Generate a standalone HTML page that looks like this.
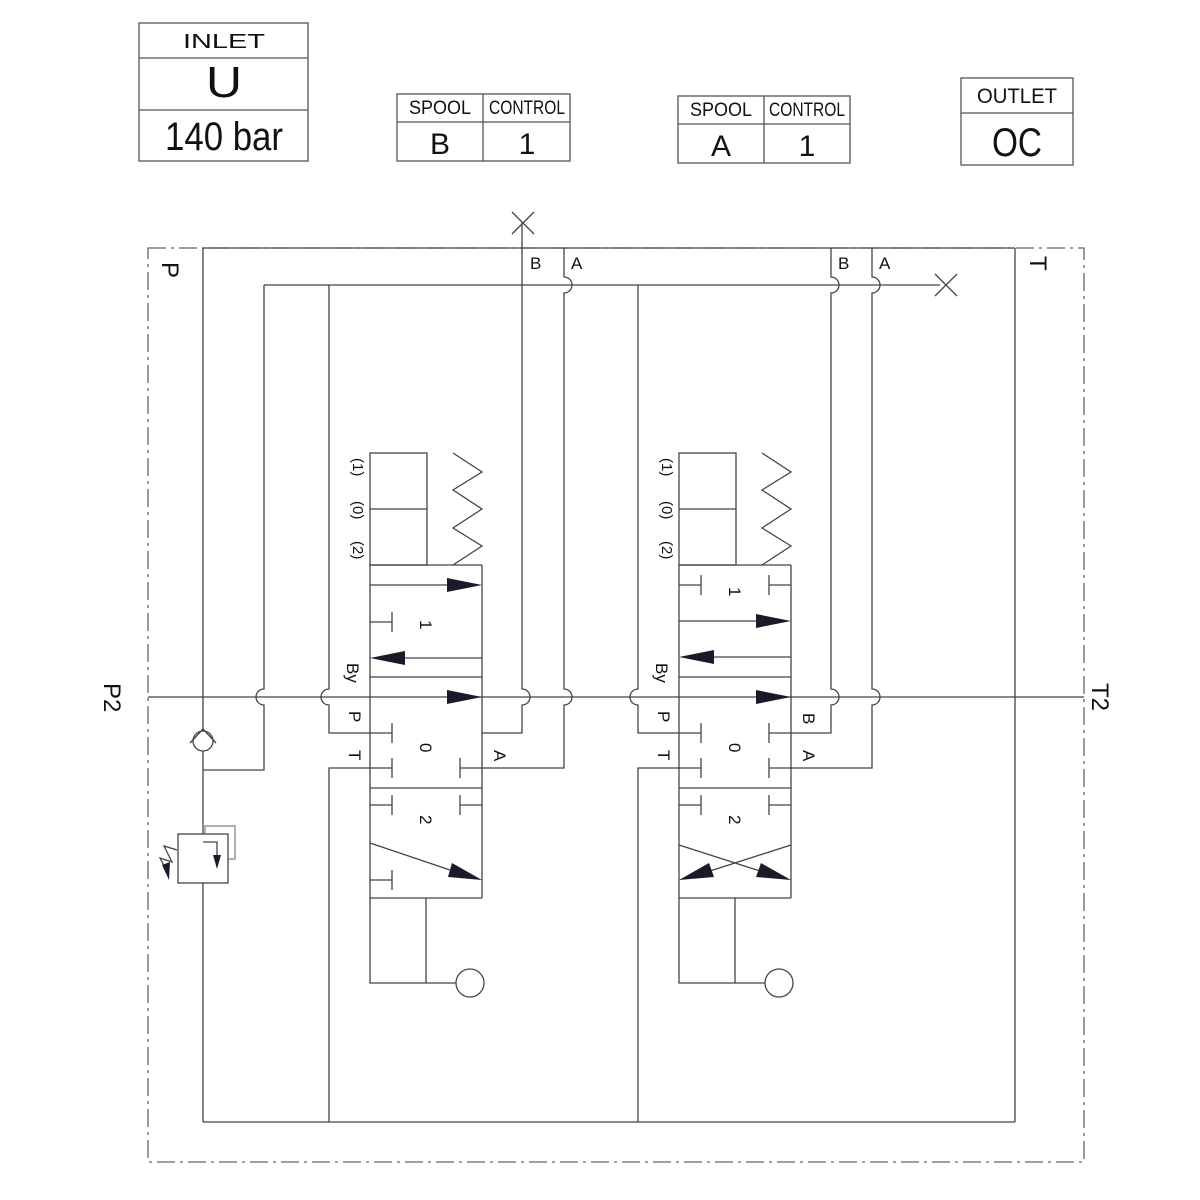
<!DOCTYPE html>
<html><head><meta charset="utf-8"><style>
html,body{margin:0;padding:0;background:#fff}
svg{display:block}
text{font-family:"Liberation Sans","DejaVu Sans",sans-serif;fill:#111}
</style></head><body>
<svg width="1200" height="1200" viewBox="0 0 1200 1200" xmlns="http://www.w3.org/2000/svg">
<g fill="none" stroke="#555" stroke-width="1.3">
<rect x="139" y="23" width="169" height="138"/>
<line x1="139" y1="58" x2="308" y2="58"/><line x1="139" y1="110" x2="308" y2="110"/>
<rect x="397" y="94" width="173" height="67"/>
<line x1="397" y1="122" x2="570" y2="122"/><line x1="483" y1="94" x2="483" y2="161"/>
<rect x="678" y="96" width="172" height="67"/>
<line x1="678" y1="124" x2="850" y2="124"/><line x1="764" y1="96" x2="764" y2="163"/>
<rect x="961" y="78" width="112" height="87"/>
<line x1="961" y1="113" x2="1073" y2="113"/>
</g>
<g text-anchor="middle">
<text x="224" y="48" font-size="20" textLength="82" lengthAdjust="spacingAndGlyphs">INLET</text>
<text x="224" y="97" font-size="44" textLength="36" lengthAdjust="spacingAndGlyphs">U</text>
<text x="224" y="150" font-size="40" textLength="118" lengthAdjust="spacingAndGlyphs">140 bar</text>
<text x="440" y="114" font-size="19" textLength="62" lengthAdjust="spacingAndGlyphs">SPOOL</text>
<text x="527" y="114" font-size="19" textLength="76" lengthAdjust="spacingAndGlyphs">CONTROL</text>
<text x="440" y="154" font-size="30">B</text>
<text x="527" y="154" font-size="30">1</text>
<text x="721" y="116" font-size="19" textLength="62" lengthAdjust="spacingAndGlyphs">SPOOL</text>
<text x="807" y="116" font-size="19" textLength="76" lengthAdjust="spacingAndGlyphs">CONTROL</text>
<text x="721" y="156" font-size="30">A</text>
<text x="807" y="156" font-size="30">1</text>
<text x="1017" y="103" font-size="21" textLength="80" lengthAdjust="spacingAndGlyphs">OUTLET</text>
<text x="1017" y="156" font-size="40" textLength="50" lengthAdjust="spacingAndGlyphs">OC</text>
</g>

<g fill="none" stroke="#444" stroke-width="1.3">
<rect x="148" y="248" width="936" height="914" stroke-dasharray="18,5,3,5" stroke="#666"/>
<line x1="203" y1="248" x2="1015" y2="248"/>
<line x1="203" y1="248" x2="203" y2="731"/>
<line x1="203" y1="751" x2="203" y2="834"/>
<line x1="203" y1="883" x2="203" y2="1122"/>
<line x1="203" y1="1122" x2="1015" y2="1122"/>
<line x1="1015" y1="248" x2="1015" y2="1122"/>
<line x1="148" y1="697" x2="1084" y2="697"/>
<line x1="264" y1="285" x2="940" y2="285"/>
<path d="M264 285 V689 A8 8 0 0 0 264 705 V770 H203"/>
<path d="M329 285 V689 A8 8 0 0 0 329 705 V733 H392"/>
<path d="M329 1122 V768 H392"/>
<path d="M638 285 V689 A8 8 0 0 0 638 705 V733 H701"/>
<path d="M638 1122 V768 H701"/>
<path d="M522 222 V689 A8 8 0 0 1 522 705 V733 H482"/>
<path d="M564 248 V277 A8 8 0 0 1 564 293 V689 A8 8 0 0 1 564 705 V768 H460"/>
<path d="M831 248 V277 A8 8 0 0 1 831 293 V689 A8 8 0 0 1 831 705 V733 H769"/>
<path d="M872 248 V277 A8 8 0 0 1 872 293 V689 A8 8 0 0 1 872 705 V768 H769"/>
<path d="M512 212 L534 234 M534 212 L512 234"/>
<path d="M935 274 L957 296 M957 274 L935 296"/>

<!-- LEFT VALVE -->
<rect x="370" y="453" width="57" height="112"/>
<line x1="370" y1="509" x2="427" y2="509"/>
<path d="M453 453 L482 472 L453 490 L482 509 L453 528 L482 546 L453 565" />
<line x1="482" y1="565" x2="482" y2="898"/>
<line x1="370" y1="565" x2="370" y2="898"/>
<line x1="370" y1="565" x2="482" y2="565"/>
<line x1="370" y1="585" x2="450" y2="585"/>
<path d="M370 622 H392 M392 612 V632"/>
<line x1="404" y1="658" x2="482" y2="658"/>
<line x1="370" y1="677" x2="482" y2="677"/>
<path d="M392 723 V743 M392 758 V778 M460 758 V778"/>
<line x1="370" y1="788" x2="482" y2="788"/>
<path d="M370 805 H392 M392 795 V815 M460 805 H482 M460 795 V815"/>
<line x1="370" y1="843" x2="450" y2="870"/>
<path d="M370 880 H392 M392 870 V890"/>
<line x1="370" y1="898" x2="482" y2="898"/>
<path d="M370 898 V983 H456 M426 898 V983"/>
<circle cx="470" cy="983" r="14"/>

<!-- RIGHT VALVE -->
<rect x="679" y="453" width="57" height="112"/>
<line x1="679" y1="509" x2="736" y2="509"/>
<path d="M762 453 L791 472 L762 490 L791 509 L762 528 L791 546 L762 565" />
<line x1="791" y1="565" x2="791" y2="898"/>
<line x1="679" y1="565" x2="679" y2="898"/>
<line x1="679" y1="565" x2="791" y2="565"/>
<path d="M679 585 H701 M701 575 V595 M769 585 H791 M769 575 V595"/>
<line x1="679" y1="621" x2="760" y2="621"/>
<line x1="713" y1="657" x2="791" y2="657"/>
<line x1="679" y1="677" x2="791" y2="677"/>
<path d="M701 723 V743 M701 758 V778 M769 723 V743 M769 758 V778"/>
<line x1="679" y1="788" x2="791" y2="788"/>
<path d="M679 805 H701 M701 795 V815 M769 805 H791 M769 795 V815"/>
<line x1="679" y1="845" x2="760" y2="871"/>
<line x1="791" y1="845" x2="710" y2="871"/>
<line x1="679" y1="898" x2="791" y2="898"/>
<path d="M679 898 V983 H765 M735 898 V983"/>
<circle cx="779" cy="983" r="14"/>

<circle cx="203" cy="741" r="10"/>
<path d="M190 743 L203 729 L216 743"/>
<rect x="205" y="826" width="30" height="33" stroke="#888"/>
<rect x="178" y="834" width="50" height="49" fill="#fff"/>
<path d="M203 842 H217 V858"/>
<path d="M168 873 L160 858 L172 862 L164 846 L177 850"/>
</g>

<g fill="#1a1a2a" stroke="none">
<polygon points="482,585 447,578 447,592"/>
<polygon points="370,658 405,651 405,665"/>
<polygon points="482,697 447,690 447,704"/>
<polygon points="482,880 448,877 452,863"/>
<polygon points="791,621 756,614 756,628"/>
<polygon points="679,657 714,650 714,664"/>
<polygon points="791,697 756,690 756,704"/>
<polygon points="791,880 756,877 761,863"/>
<polygon points="679,880 709,863 714,877"/>
<polygon points="217,869 213,855 221,855"/>
<polygon points="169,880 162,865 170,862"/>
</g>

<g font-size="17">
<text x="530" y="269">B</text><text x="571" y="269">A</text>
<text x="838" y="269">B</text><text x="879" y="269">A</text>
</g>
<g font-size="24">
<text transform="translate(162,262) rotate(90)">P</text>
<text transform="translate(1030,256) rotate(90)">T</text>
<text transform="translate(104,683) rotate(90)">P2</text>
<text transform="translate(1092,683) rotate(90)">T2</text>
</g>
<g font-size="15">
<text transform="translate(353,458) rotate(90)">(1)</text>
<text transform="translate(353,501) rotate(90)">(0)</text>
<text transform="translate(353,541) rotate(90)">(2)</text>
<text transform="translate(662,458) rotate(90)">(1)</text>
<text transform="translate(662,501) rotate(90)">(0)</text>
<text transform="translate(662,541) rotate(90)">(2)</text>
</g>
<g font-size="17">
<text transform="translate(347,663) rotate(90)">By</text>
<text transform="translate(349,711) rotate(90)">P</text>
<text transform="translate(349,750) rotate(90)">T</text>
<text transform="translate(494,750) rotate(90)">A</text>
<text transform="translate(420,620) rotate(90)">1</text>
<text transform="translate(420,743) rotate(90)">0</text>
<text transform="translate(420,815) rotate(90)">2</text>
<text transform="translate(656,663) rotate(90)">By</text>
<text transform="translate(658,711) rotate(90)">P</text>
<text transform="translate(658,750) rotate(90)">T</text>
<text transform="translate(803,713) rotate(90)">B</text>
<text transform="translate(803,750) rotate(90)">A</text>
<text transform="translate(729,587) rotate(90)">1</text>
<text transform="translate(729,743) rotate(90)">0</text>
<text transform="translate(729,815) rotate(90)">2</text>
</g>
</svg>
</body></html>
